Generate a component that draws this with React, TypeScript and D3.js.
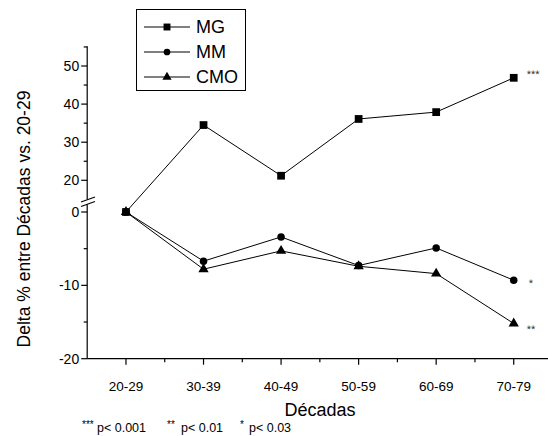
import React from "react";
import * as d3 from "d3";

const categories = ["20-29", "30-39", "40-49", "50-59", "60-69", "70-79"];
const seriesNames = ["MG", "MM", "CMO"];
const mgValues = [0, 34.5, 21.2, 36.1, 37.9, 46.9];
const mmValues = [0, -6.7, -3.4, -7.3, -4.9, -9.3];
const cmoValues = [0, -7.8, -5.3, -7.4, -8.4, -15.2];
const upperTicks = [20, 30, 40, 50];
const upperMinor = [25, 35, 45, 55];
const lowerTicks = [0, -10, -20];
const lowerMinor = [-5, -15];
const significance = ["***", "*", "**"];
const footnote = [
  ["***", "p< 0.001"],
  ["**", "p< 0.01"],
  ["*", "p< 0.03"],
];

const FONT = "'Liberation Sans', Arial, Helvetica, sans-serif";

export default function App() {
  const W = 548;
  const H = 436;
  const x = d3.scaleLinear().domain([-0.5, 5.5]).range([87.2, 552.5]);
  const yUpper = d3.scaleLinear().domain([20, 50]).range([180.3, 66]);
  const yLower = d3.scaleLinear().domain([-20, 0]).range([358.7, 212]);
  const yv = (v: number) => (v >= 10 ? yUpper(v) : yLower(v));
  const axisX = 87.2;
  const baseY = yLower(-20);

  const series = [
    { name: seriesNames[0], values: mgValues, sym: d3.symbolSquare, size: 60 },
    { name: seriesNames[1], values: mmValues, sym: d3.symbolCircle, size: 44 },
    { name: seriesNames[2], values: cmoValues, sym: d3.symbolTriangle, size: 46 },
  ];
  const line = d3
    .line<number>()
    .x((_, i) => x(i))
    .y((v) => yv(v));

  const annOffsets = [
    { dx: 13, dy: 0 },
    { dx: 15, dy: 7 },
    { dx: 13, dy: 10 },
  ];
  const footX = [
    [82, 97],
    [167, 181],
    [240, 249],
  ];

  return (
    <svg width={W} height={H} style={{ display: "block", position: "absolute", left: 0, top: 0 }} fontFamily={FONT}>
      <rect x={0} y={0} width={W} height={H} fill="#fff" />
      {/* Y axis segments */}
      <line x1={axisX} x2={axisX} y1={yUpper(55.2)} y2={199.5} stroke="#000" strokeWidth={1.2} />
      <line x1={axisX} x2={axisX} y1={204.5} y2={baseY} stroke="#000" strokeWidth={1.2} />
      {/* break marks */}
      <line x1={81} y1={202} x2={95} y2={197} stroke="#000" strokeWidth={1.1} />
      <line x1={81} y1={206.5} x2={95} y2={201.5} stroke="#000" strokeWidth={1.1} />
      {upperTicks.map((t) => (
        <g key={"u" + t}>
          <line x1={axisX - 6} x2={axisX} y1={yUpper(t)} y2={yUpper(t)} stroke="#000" strokeWidth={1.2} />
          <text x={axisX - 8} y={yUpper(t)} dy="0.35em" textAnchor="end" fontSize={14}>
            {t}
          </text>
        </g>
      ))}
      {upperMinor.map((t) => (
        <line key={"um" + t} x1={axisX - 3.5} x2={axisX} y1={yUpper(t)} y2={yUpper(t)} stroke="#000" strokeWidth={1.2} />
      ))}
      {lowerTicks.map((t) => (
        <g key={"l" + t}>
          <line x1={axisX - 6} x2={axisX} y1={yLower(t)} y2={yLower(t)} stroke="#000" strokeWidth={1.2} />
          <text x={axisX - 8} y={yLower(t)} dy="0.35em" textAnchor="end" fontSize={14}>
            {t}
          </text>
        </g>
      ))}
      {lowerMinor.map((t) => (
        <line key={"lm" + t} x1={axisX - 3.5} x2={axisX} y1={yLower(t)} y2={yLower(t)} stroke="#000" strokeWidth={1.2} />
      ))}
      {/* X axis */}
      <line x1={axisX} x2={W} y1={baseY} y2={baseY} stroke="#000" strokeWidth={1.2} />
      {categories.map((c, i) => (
        <g key={c}>
          <line x1={x(i)} x2={x(i)} y1={baseY} y2={baseY + 6} stroke="#000" strokeWidth={1.2} />
          <line x1={x(i + 0.5)} x2={x(i + 0.5)} y1={baseY} y2={baseY + 3.5} stroke="#000" strokeWidth={1.2} />
          <text x={x(i)} y={391} textAnchor="middle" fontSize={13.5}>
            {c}
          </text>
        </g>
      ))}
      <text x={320} y={416} textAnchor="middle" fontSize={18}>
        Décadas
      </text>
      <text transform="translate(30,219) rotate(-90)" textAnchor="middle" fontSize={17.5}>
        Delta % entre Décadas vs. 20-29
      </text>
      {/* Lines */}
      {series.map((s) => (
        <path key={"p" + s.name} d={line(s.values) || ""} fill="none" stroke="#000" strokeWidth={1} />
      ))}
      {[...series].reverse().map((s) =>
        s.values.map((v, i) => (
          <path
            key={s.name + i}
            d={d3.symbol().type(s.sym).size(s.size)() || ""}
            transform={`translate(${x(i)},${yv(v)})`}
            fill="#000"
          />
        ))
      )}
      {/* significance */}
      {series.map((s, k) => (
        <text
          key={"a" + k}
          x={x(5) + annOffsets[k].dx}
          y={yv(s.values[5]) + annOffsets[k].dy}
          fontSize={11}
          fill="#333"
          style={{ WebkitFontSmoothing: "antialiased" }}
          textRendering="geometricPrecision"
        >
          {significance[k]}
        </text>
      ))}
      {/* Legend */}
      <rect x={136.5} y={9.5} width={109} height={81} fill="#fff" stroke="#000" strokeWidth={1} />
      {series.map((s, k) => {
        const ly = 27 + k * 25;
        return (
          <g key={"lg" + k}>
            <line x1={144} x2={190} y1={ly} y2={ly} stroke="#000" strokeWidth={1} />
            <path d={d3.symbol().type(s.sym).size(s.size * 0.8)() || ""} transform={`translate(167,${ly})`} fill="#000" />
            <text x={196} y={ly} dy="0.36em" fontSize={18}>
              {s.name}
            </text>
          </g>
        );
      })}
      {/* footnote */}
      {footnote.map((f, k) => (
        <g key={"f" + k}>
          <text x={footX[k][0]} y={428} fontSize={10}>
            {f[0]}
          </text>
          <text x={footX[k][1]} y={432} fontSize={12.5}>
            {f[1]}
          </text>
        </g>
      ))}
    </svg>
  );
}
